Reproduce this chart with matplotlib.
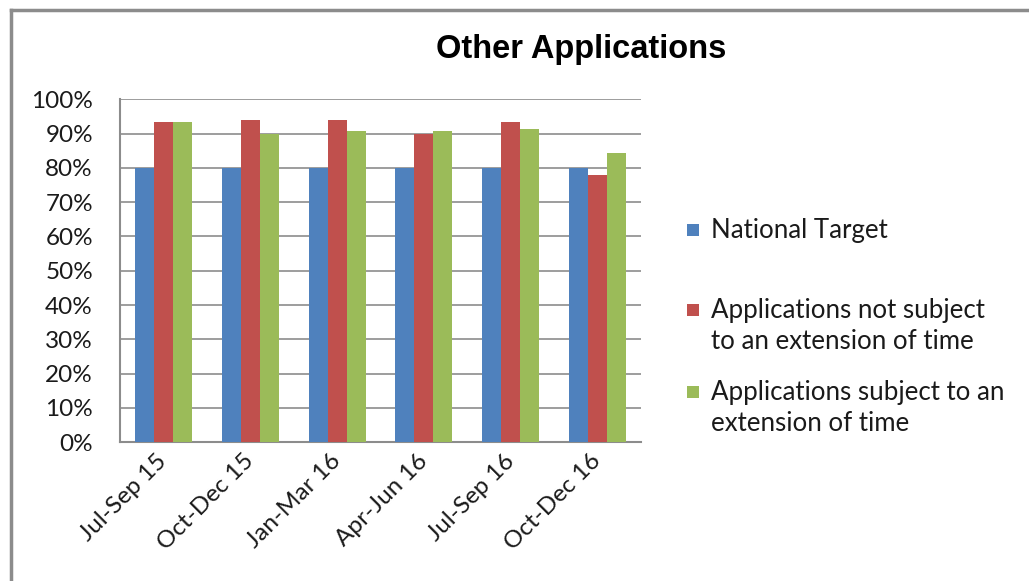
import matplotlib
matplotlib.use("Agg")
import matplotlib.pyplot as plt
from matplotlib.patches import Rectangle
from matplotlib.lines import Line2D
import numpy as np

quarters = ["Jul-Sep 15", "Oct-Dec 15", "Jan-Mar 16", "Apr-Jun 16", "Jul-Sep 16", "Oct-Dec 16"]
national_target = [0.80, 0.80, 0.80, 0.80, 0.80, 0.80]
not_subject_eot = [0.934, 0.939, 0.939, 0.900, 0.934, 0.780]
subject_eot = [0.934, 0.900, 0.908, 0.908, 0.912, 0.843]
series_names = [
    ["National Target"],
    ["Applications not subject", "to an extension of time"],
    ["Applications subject to an", "extension of time"],
]
series_colors = ["#4F81BD", "#C0504D", "#9BBB59"]
y_ticks = np.arange(0, 1.01, 0.1)
y_tick_labels = [f"{int(round(t * 100))}%" for t in y_ticks]

W, H = 1029, 581
fig = plt.figure(figsize=(W / 100, H / 100), dpi=100)
fig.patch.set_facecolor("white")

ax = fig.add_axes([120 / W, 1 - 442.3 / H, (641 - 120) / W, (442.3 - 99.3) / H])

x = np.arange(len(quarters))
bw = 0.219
all_series = [national_target, not_subject_eot, subject_eot]
for i, (vals, col) in enumerate(zip(all_series, series_colors)):
    ax.bar(x + (i - 1) * bw, vals, width=bw, color=col, edgecolor="none", zorder=3)

ax.set_xlim(-0.5, len(quarters) - 0.5)
ax.set_ylim(0, 1.0)
ax.set_yticks(y_ticks)
ax.set_yticklabels(y_tick_labels)
ax.set_xticks(x)
ax.set_xticklabels(quarters, rotation=45, ha="right", va="center", rotation_mode="anchor")

for lab in ax.get_yticklabels() + ax.get_xticklabels():
    lab.set_fontfamily("Lato")
    lab.set_fontsize(17.5)
    lab.set_color("#1a1a1a")

ax.tick_params(axis="y", length=0, pad=19.5)
ax.tick_params(axis="x", length=0, pad=11)

ax.yaxis.grid(True, color="#8c8c8c", linewidth=1.2, zorder=0)
ax.set_axisbelow(True)
for s in ["top", "right"]:
    ax.spines[s].set_visible(False)
for s in ["left", "bottom"]:
    ax.spines[s].set_color("#8c8c8c")
    ax.spines[s].set_linewidth(1.5)

# Title
fig.text(581 / W, 1 - 58.3 / H, "Other Applications", ha="center", va="baseline",
         fontsize=23.5, fontweight="bold", family="Liberation Sans", color="black")

# Legend: square aligned with the first text line of each entry
first_baselines = [238, 318, 400]
line_gap = 31
for lines, col, yb in zip(series_names, series_colors, first_baselines):
    fig.patches.append(Rectangle((687 / W, 1 - (yb - 2) / H), 12 / W, 12 / H,
                                 transform=fig.transFigure, facecolor=col,
                                 edgecolor="none"))
    for k, txt in enumerate(lines):
        fig.text(711 / W, 1 - (yb + k * line_gap) / H, txt, ha="left", va="baseline",
                 fontsize=18.6, family="Lato", color="#1a1a1a")

# Chart frame
frame_kw = dict(color="#8c8c8c", linewidth=2.5, transform=fig.transFigure)
fig.lines.append(Line2D([11 / W, 1.0], [1 - 9.5 / H, 1 - 9.5 / H], **frame_kw))
fig.lines.append(Line2D([11 / W, 11 / W], [0, 1 - 9.5 / H], **frame_kw))

fig.savefig("out.png", dpi=100, facecolor="white")
